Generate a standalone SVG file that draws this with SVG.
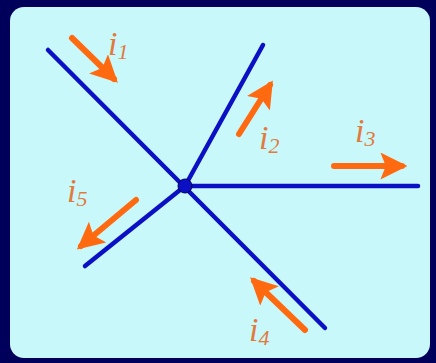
<svg xmlns="http://www.w3.org/2000/svg" width="436" height="363" viewBox="0 0 436 363">
<style>
.wire{stroke:#0c10c4;stroke-width:4.5;stroke-linecap:round;fill:none}
.cur{stroke:#ff6a10;stroke-width:6;stroke-linecap:round;fill:none}
.lbl{font-family:"Liberation Serif",serif;font-style:italic;fill:#e27a3e;font-size:34px}
.sub{font-size:22px}
</style>
<defs>
<marker id="ah" viewBox="0 0 20 20" refX="16" refY="10" markerWidth="27" markerHeight="27" markerUnits="userSpaceOnUse" orient="auto">
<path d="M0,0 L20,10 L0,20 L4,10 Z" fill="#ff6a10"/>
</marker>
</defs>
<rect x="0" y="0" width="436" height="363" fill="#00005a"/>
<rect x="10" y="7" width="420" height="351" rx="14" fill="#c8f8fa"/>
<g id="connectors">
<line class="wire" x1="48" y1="50" x2="325" y2="328"/>
<line class="wire" x1="185" y1="186" x2="263" y2="45"/>
<line class="wire" x1="185" y1="186" x2="418" y2="186"/>
<line class="wire" x1="185" y1="186" x2="85" y2="266"/>
</g>
<g id="node"><circle cx="185" cy="186" r="7" fill="#0c10c4" stroke="#00005a" stroke-width="1"/></g>
<g id="i1"><line class="cur" x1="72" y1="38" x2="114" y2="79" marker-end="url(#ah)"/><text class="lbl" x="108" y="55">i<tspan class="sub" dy="4">1</tspan></text></g>
<g id="i2"><line class="cur" x1="239" y1="134" x2="270" y2="85" marker-end="url(#ah)"/><text class="lbl" x="259" y="149">i<tspan class="sub" dy="4">2</tspan></text></g>
<g id="i3"><line class="cur" x1="334" y1="166" x2="402" y2="166" marker-end="url(#ah)"/><text class="lbl" x="355" y="142">i<tspan class="sub" dy="4">3</tspan></text></g>
<g id="i4"><line class="cur" x1="305" y1="330" x2="254" y2="281" marker-end="url(#ah)"/><text class="lbl" x="249" y="341">i<tspan class="sub" dy="4">4</tspan></text></g>
<g id="i5"><line class="cur" x1="136" y1="200" x2="81" y2="246" marker-end="url(#ah)"/><text class="lbl" x="67" y="202">i<tspan class="sub" dy="4">5</tspan></text></g>
</svg>
